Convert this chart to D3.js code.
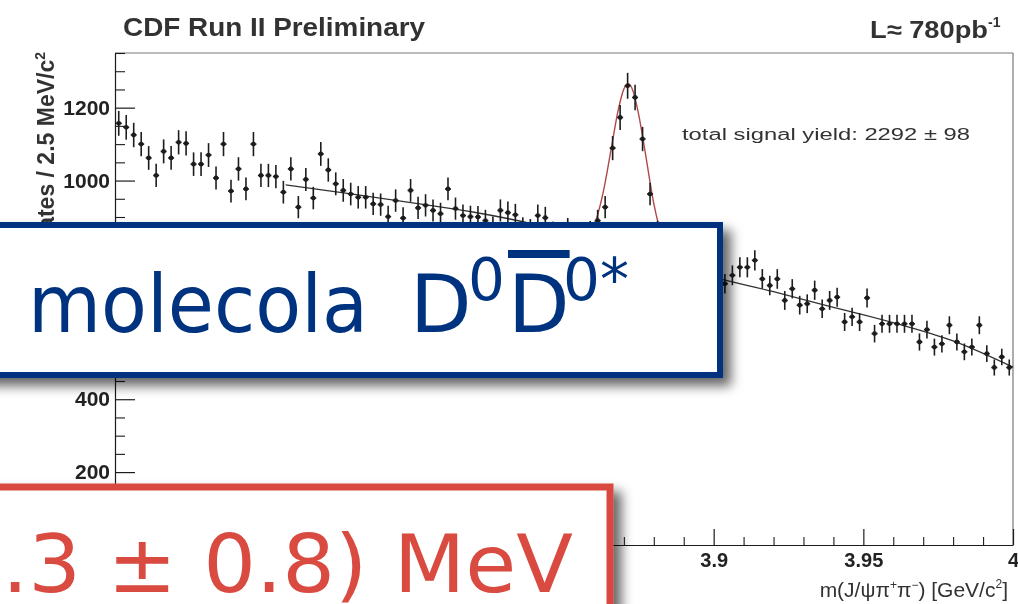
<!DOCTYPE html>
<html><head><meta charset="utf-8">
<script src="https://cdn.jsdelivr.net/npm/d3@7"></script>
<style>body{margin:0;background:#fff}svg{display:block}</style>
</head><body>
<svg id="c" width="1018" height="604"></svg>
<script>
// ---- data (candidates per 2.5 MeV/c^2 bin, m from 3.70 to 4.00 GeV/c^2) ----
const massMin = 3.70, massMax = 4.00, binWidth = 0.0025;
const counts = [
 1157,1146,1125,1100,1062,1014,1080,1062,1105,1102,
 1045,1045,1070,1007,1100, 971,1032, 977,1100,1014,
 1014,1011, 968,1032, 927,1003, 952,1073,1029, 991,
  973, 963, 954, 954, 936, 934, 901, 945, 897, 973,
  925, 932, 918, 909, 977, 923, 904, 901, 900, 890,
  872, 918, 912, 906, 870, 865, 904, 898, 858, 850,
  868, 842, 855, 860, 890, 927,1089,1173,1260,1228,
 1114, 963, 860, 800, 770, 790, 760, 745, 770, 735,
  750, 717, 740, 762, 762, 781, 730, 712, 730, 671,
  703, 658, 662, 699, 648, 671, 680, 612, 626, 612,
  678, 580, 607, 607, 607, 607, 607, 557, 591, 543,
  552, 603, 557, 530, 543, 603, 525, 487, 516, 487
];
// fit curve: background and signal peak
const fitBgMass = [3.757,3.78,3.80,3.82,3.84,3.86,3.88,3.90,3.92,3.94,3.96,3.98,4.00];
const fitBgVal  = [ 988, 962, 938, 913, 880, 835, 785, 735, 695, 652, 610, 560, 488];
const fitPkMass = [3.855,3.86,3.863,3.866,3.868,3.870,3.8715,3.873,3.875,3.877,3.880,3.883,3.887,3.892];
const fitPkVal  = [ 832, 877, 964,1098,1189,1251,1266,1247,1179,1084, 937, 840, 787, 765];
// axes (labels hidden behind the slide boxes are left empty)
const yMajor = [0,200,400,600,800,1000,1200];
const yMajorLabels = ["","200","400","","","1000","1200"];
const xMajor = [3.70,3.75,3.80,3.85,3.90,3.95,4.00];
const xMajorLabels = ["","","","","3.9","3.95","4"];
// texts
const title = "CDF Run II Preliminary";
const lumi = "L\u2248 780pb";
const yieldText = "total signal yield: 2292 \u00b1 98";
const yTitle = "Candidates / 2.5 MeV/c";
const blueText = "molecola";
const redText = ".3 \u00b1 0.8) MeV";

const svg = d3.select("#c");
const defs = svg.append("defs");
const blur = defs.append("filter").attr("id","soft");
blur.append("feGaussianBlur").attr("stdDeviation",0.6);
const sh = defs.append("filter").attr("id","shadow").attr("x","-20%").attr("y","-20%").attr("width","150%").attr("height","160%");
sh.append("feDropShadow").attr("dx",8).attr("dy",8).attr("stdDeviation",6).attr("flood-color","#000").attr("flood-opacity",0.6);

const x = d3.scaleLinear([massMin,massMax],[115,1013]);
const y = d3.scaleLinear([0,1350],[545,53]);

const g = svg.append("g").attr("filter","url(#soft)");
const ink = "#1e1e1e", font = "'Liberation Sans', Arial, sans-serif";

// frame (top & right)
g.append("line").attr("x1",x(massMin)).attr("x2",x(massMax)).attr("y1",y(1350)).attr("y2",y(1350)).attr("stroke","#777").attr("stroke-width",1.2);
g.append("line").attr("x1",x(massMax)).attr("x2",x(massMax)).attr("y1",y(1350)).attr("y2",y(0)).attr("stroke","#777").attr("stroke-width",1.2);

// y axis
const yMinor = d3.range(0,1351,50).filter(v=>v%200!==0);
const ya = g.append("g").attr("transform",`translate(${x(massMin)},0)`)
  .call(d3.axisLeft(y).tickValues(yMajor).tickFormat((d,i)=>yMajorLabels[i]).tickSizeInner(-20).tickSizeOuter(0).tickPadding(5));
ya.select(".domain").attr("stroke",ink).attr("stroke-width",1.2);
ya.selectAll(".tick line").attr("stroke",ink).attr("stroke-width",1.2);
ya.selectAll(".tick text").attr("font-family",font).attr("font-size",21).attr("fill","#222").attr("font-weight","bold");
g.append("g").attr("transform",`translate(${x(massMin)},0)`)
  .call(d3.axisLeft(y).tickValues(yMinor).tickFormat("").tickSizeInner(-10).tickSizeOuter(0))
  .call(a=>{a.select(".domain").remove();a.selectAll("line").attr("stroke",ink).attr("stroke-width",1.1);});

// x axis
const xMinor = d3.range(0,31).map(k=>massMin+k*0.01).filter((v,k)=>k%5!==0);
const xa = g.append("g").attr("transform",`translate(0,${y(0)})`)
  .call(d3.axisBottom(x).tickValues(xMajor).tickFormat((d,i)=>xMajorLabels[i]).tickSizeInner(-16).tickSizeOuter(0).tickPadding(8));
xa.select(".domain").attr("stroke",ink).attr("stroke-width",1.2);
xa.selectAll(".tick line").attr("stroke",ink).attr("stroke-width",1.2);
xa.selectAll(".tick text").attr("font-family",font).attr("font-size",20).attr("fill","#222").attr("font-weight","bold");
g.append("g").attr("transform",`translate(0,${y(0)})`)
  .call(d3.axisBottom(x).tickValues(xMinor).tickFormat("").tickSizeInner(-8).tickSizeOuter(0))
  .call(a=>{a.select(".domain").remove();a.selectAll("line").attr("stroke",ink).attr("stroke-width",1.1);});

// fit lines
const line = d3.line().x(d=>x(d[0])).y(d=>y(d[1])).curve(d3.curveMonotoneX);
g.append("path").attr("d",line(fitBgMass.map((m,i)=>[m,fitBgVal[i]]))).attr("fill","none").attr("stroke","#333").attr("stroke-width",1.3);
g.append("path").attr("d",line(fitPkMass.map((m,i)=>[m,fitPkVal[i]]))).attr("fill","none").attr("stroke","#b04848").attr("stroke-width",1.4);

// data points
const pts = g.append("g");
counts.forEach((v,i)=>{
  const m = massMin + binWidth*(i+0.5), e = Math.sqrt(v);
  const cx = x(m), cy = y(v);
  pts.append("line").attr("x1",cx).attr("x2",cx).attr("y1",y(v+e)).attr("y2",y(v-e)).attr("stroke",ink).attr("stroke-width",1.6);
  pts.append("line").attr("x1",x(m-binWidth*0.4)).attr("x2",x(m+binWidth*0.4)).attr("y1",cy).attr("y2",cy).attr("stroke",ink).attr("stroke-width",1.6);
  pts.append("circle").attr("cx",cx).attr("cy",cy).attr("r",2.4).attr("fill",ink);
});

// texts
g.append("text").attr("x",123).attr("y",36).attr("font-family",font).attr("font-weight","bold").attr("font-size",25)
  .attr("fill","#333").attr("textLength",302).attr("lengthAdjust","spacingAndGlyphs").text(title);
const lt = g.append("text").attr("x",870).attr("y",38).attr("font-family",font).attr("font-weight","bold").attr("font-size",24).attr("fill","#333");
lt.append("tspan").attr("textLength",118).attr("lengthAdjust","spacingAndGlyphs").text(lumi);
lt.append("tspan").attr("dy",-11).attr("font-size",14).text("-1");
g.append("text").attr("x",682).attr("y",140).attr("font-family",font).attr("font-size",16).attr("fill","#333")
  .attr("textLength",288).attr("lengthAdjust","spacingAndGlyphs").text(yieldText);
const yt = g.append("text").attr("transform","translate(54,52) rotate(-90)").attr("text-anchor","end")
  .attr("font-family",font).attr("font-weight","bold").attr("font-size",23).attr("fill","#333");
yt.append("tspan").text(yTitle);
yt.append("tspan").attr("dy",-9).attr("font-size",14).text("2");
const xt = g.append("text").attr("x",1008).attr("y",597).attr("text-anchor","end")
  .attr("font-family",font).attr("font-size",21).attr("fill","#333");
xt.append("tspan").text("m(J/\u03c8\u03c0");
xt.append("tspan").attr("dy",-8).attr("font-size",12).text("+");
xt.append("tspan").attr("dy",8).text("\u03c0");
xt.append("tspan").attr("dy",-8).attr("font-size",12).text("\u2212");
xt.append("tspan").attr("dy",8).text(") [GeV/c");
xt.append("tspan").attr("dy",-9).attr("font-size",12).text("2");
xt.append("tspan").attr("dy",9).text("]");

// ---- overlay boxes ----
const blue = "#00337f", red = "#d94a40", ofont = "'DejaVu Sans', 'Noto Sans', sans-serif";
svg.append("rect").attr("x",-20).attr("y",225).attr("width",740).attr("height",150)
  .attr("fill","#fff").attr("stroke",blue).attr("stroke-width",6).attr("filter","url(#shadow)");
const bt = svg.append("text").attr("y",332).attr("font-family",ofont).attr("font-size",80).attr("fill",blue);
bt.append("tspan").attr("x",28).attr("textLength",340).attr("lengthAdjust","spacingAndGlyphs").text(blueText);
bt.append("tspan").attr("x",410).text("D");
bt.append("tspan").attr("x",468).attr("y",300).attr("font-size",58).text("0");
bt.append("tspan").attr("x",508).attr("y",332).style("text-decoration","overline").text("D");
bt.append("tspan").attr("x",563).attr("y",300).attr("font-size",58).text("0*");

svg.append("rect").attr("x",-20).attr("y",487).attr("width",630).attr("height",200)
  .attr("fill","#fff").attr("stroke",red).attr("stroke-width",7).attr("filter","url(#shadow)");
svg.append("text").attr("x",2).attr("y",592).attr("font-family",ofont).attr("font-size",80).attr("fill",red)
  .attr("textLength",571).attr("lengthAdjust","spacingAndGlyphs").text(redText);
</script>
</body></html>
